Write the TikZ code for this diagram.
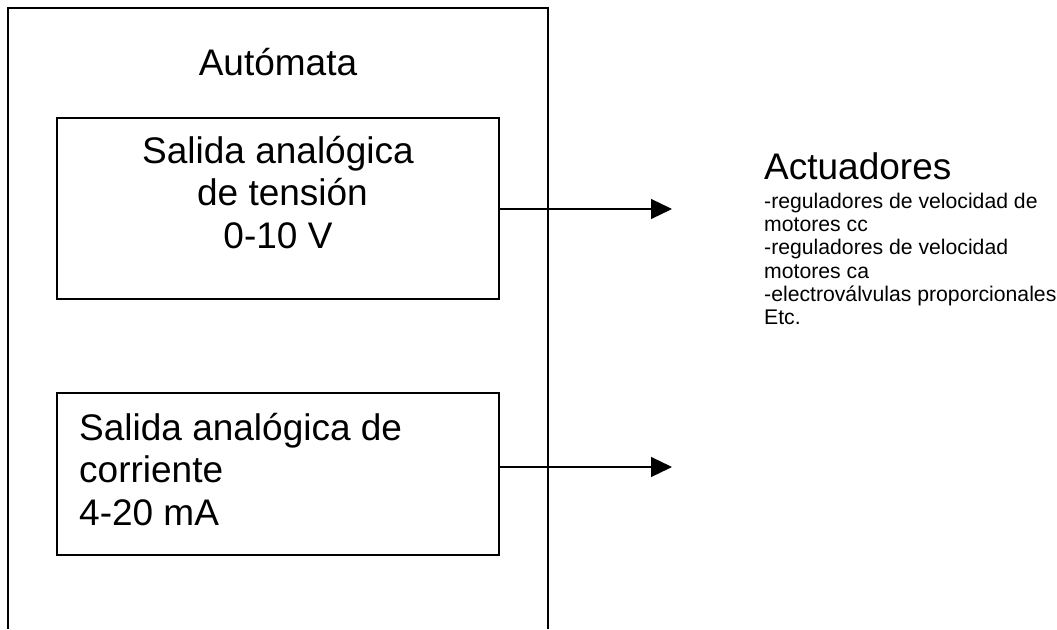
\documentclass[tikz,border=0pt]{standalone}
\usepackage{fontspec}
\setmainfont{Liberation Sans}
\usetikzlibrary{arrows.meta}
\tikzset{%
  senal/.style = {-{Triangle[length=21pt,width=20pt]},line width=1.2pt},
  r/.style = {rectangle,draw,line width=1.2pt,minimum width=442pt,
        inner sep=0pt},
  grande/.style = {font=\fontsize{37}{42.5}\selectfont,inner sep=0pt},
  chica/.style = {font=\fontsize{21.2}{23.3}\selectfont,inner sep=0pt}
}

\begin{document}
\begin{tikzpicture}[x=1pt,y=-1pt]
\useasboundingbox (0,0) rectangle (1057,629);
% automata
\coordinate (a1) at (8,629);
\coordinate (a2) at (8,8);
\coordinate (a3) at (548,8);
\coordinate (a4) at (548,629);
\draw[line width=1.2pt] (a1) -- (a2) -- (a3) -- (a4);
\node[grande,anchor=base] (automata) at (278,75) {Autómata};
% salidas
\node[r,minimum height=181pt] (tension) at (278,208.5) {};
\node[r,minimum height=162pt] (corriente) at (278,474) {};
\node[grande,align=center,anchor=north] (ttension) at (278,136)
    {Salida analógica\\ \hspace*{9pt}de tensión\\ 0-10 V};
\node[grande,align=left,anchor=north west] (tcorriente) at (79,412.6)
    {Salida analógica de\\ corriente\\ 4-20 mA};
% actuadores
\coordinate (fin1) at (672,209);
\coordinate (fin2) at (672,467);
\draw[senal] (tension.east |- fin1) -- (fin1);
\draw[senal] (corriente.east |- fin2) -- (fin2);
\node[grande,anchor=base west] (actuadores) at (764,179) {Actuadores};
\node[chica,align=left,anchor=north west] (lista) at (764,192.8)
    {-reguladores de velocidad de\\ motores cc\\ -reguladores de velocidad\\
     motores ca\\ -electroválvulas proporcionales\\ Etc.};
\end{tikzpicture}
\end{document}
